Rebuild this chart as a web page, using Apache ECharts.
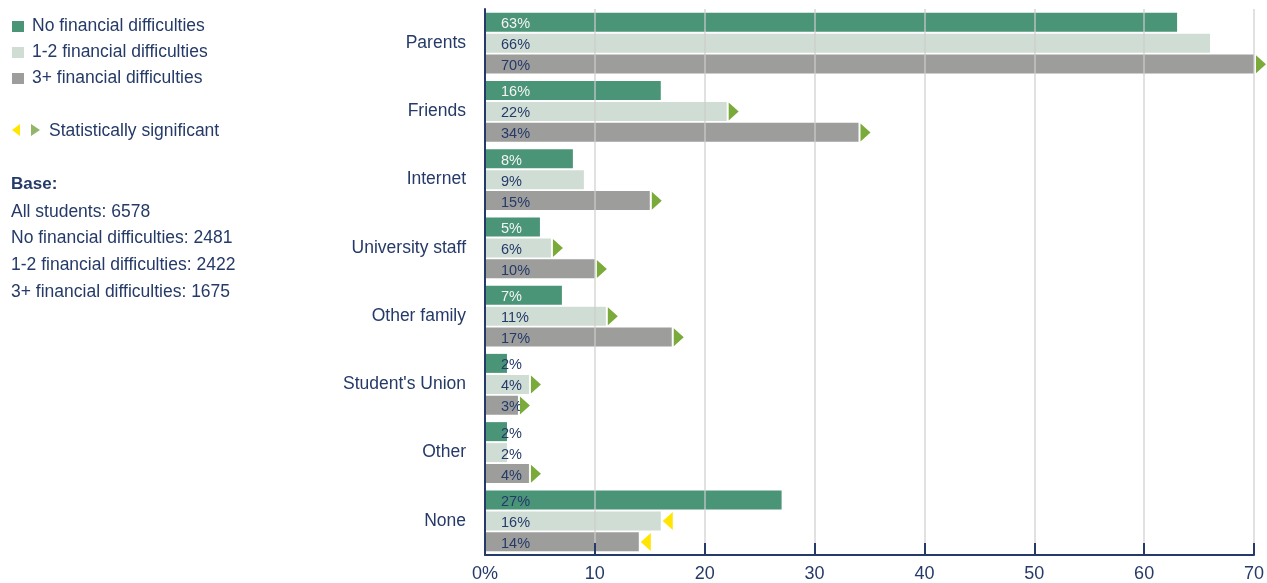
<!DOCTYPE html>
<html>
<head>
<meta charset="utf-8">
<script src="https://cdn.jsdelivr.net/npm/echarts@6/dist/echarts.min.js"></script>
<style>
html,body{margin:0;padding:0;background:#fff;}
#chart{width:1267px;height:583px;}
</style>
</head>
<body>
<div id="chart"></div>
<script>
// ---- data ----
var categories = ["Parents", "Friends", "Internet", "University staff", "Other family", "Student's Union", "Other", "None"];
var seriesNames = ["No financial difficulties", "1-2 financial difficulties", "3+ financial difficulties"];
var noDiff   = [63, 16, 8, 5, 7, 2, 2, 27];
var oneTwo   = [66, 22, 9, 6, 11, 4, 2, 16];
var threePlus= [70, 34, 15, 10, 17, 3, 4, 14];
// significance: 1 = significantly higher (green ▶), -1 = significantly lower (yellow ◀), 0 = none
var sigNo        = [0, 0, 0, 0, 0, 0, 0, 0];
var sigOneTwo    = [0, 1, 0, 1, 1, 1, 0, -1];
var sigThreePlus = [1, 1, 1, 1, 1, 1, 1, -1];
var xTicks = [0, 10, 20, 30, 40, 50, 60, 70];
var baseLines = ["All students: 6578", "No financial difficulties: 2481", "1-2 financial difficulties: 2422", "3+ financial difficulties: 1675"];

// ---- styles ----
var NAVY = '#253a68';
var colors = ['#4a9478', '#d0ddd5', '#9d9d9c'];
var GREEN_TRI = '#7aab3a', YELLOW_TRI = '#ffe500';
var FONT = 'Liberation Sans, Arial, sans-serif';
var BAR_W = 19, BAR_STEP = 21;
var darkLabelIdx = [5, 6, 7];

var chart = echarts.init(document.getElementById('chart'), null, {renderer: 'canvas'});

var valuesList = [noDiff, oneTwo, threePlus];
var sigList = [sigNo, sigOneTwo, sigThreePlus];

var series = [];
valuesList.forEach(function (vals, si) {
  series.push({
    name: seriesNames[si],
    type: 'bar',
    barWidth: BAR_W,
    barGap: '10.5%',
    itemStyle: {color: colors[si]},
    z: 2,
    label: {
      show: true,
      position: 'insideLeft',
      distance: 16,
      offset: [0, 2],
      formatter: '{c}%',
      fontFamily: FONT,
      fontSize: 14.5,
      color: NAVY
    },
    data: vals.map(function (v, i) {
      var d = {value: v};
      if (si === 0 && darkLabelIdx.indexOf(i) < 0) d.label = {color: '#f4f4f4'};
      return d;
    })
  });
});

// triangles marking statistical significance
sigList.forEach(function (sig, si) {
  var data = [];
  sig.forEach(function (s, i) {
    if (s !== 0) data.push([valuesList[si][i], i, s]);
  });
  series.push({
    type: 'custom',
    z: 5,
    silent: true,
    data: data,
    encode: {x: 0, y: 1},
    renderItem: function (params, api) {
      var p = api.coord([api.value(0), api.value(1)]);
      var dir = api.value(2);
      var cy = p[1] + (si - 1) * BAR_STEP;
      var x0 = p[0] + 2;
      var pts = dir > 0
        ? [[x0, cy - 9], [x0 + 10, cy], [x0, cy + 9]]
        : [[x0 + 10, cy - 9], [x0, cy], [x0 + 10, cy + 9]];
      return {
        type: 'polygon',
        shape: {points: pts},
        style: {fill: dir > 0 ? GREEN_TRI : YELLOW_TRI}
      };
    }
  });
});

var graphics = [];
// significance legend
graphics.push({type: 'polygon', left: 12, top: 124, shape: {points: [[8, 0], [0, 6], [8, 12]]}, style: {fill: YELLOW_TRI}});
graphics.push({type: 'polygon', left: 31, top: 124, shape: {points: [[0, 0], [9, 6], [0, 12]]}, style: {fill: '#93b56a'}});
graphics.push({type: 'text', left: 49, top: 122, style: {text: 'Statistically significant', font: '17.5px ' + FONT, fill: NAVY}});
graphics.push({type: 'text', left: 11, top: 176, style: {text: 'Base:', font: 'bold 17px ' + FONT, fill: NAVY}});
baseLines.forEach(function (t, i) {
  graphics.push({type: 'text', left: 11, top: 203 + i * 26.6, style: {text: t, font: '17.5px ' + FONT, fill: NAVY}});
});

var option = {
  animation: false,
  backgroundColor: '#fff',
  textStyle: {fontFamily: FONT},
  legend: {
    orient: 'vertical',
    left: 12,
    top: 17.5,
    padding: 0,
    itemWidth: 12,
    itemHeight: 11,
    itemGap: 8,
    icon: 'rect',
    selectedMode: false,
    data: seriesNames,
    textStyle: {fontFamily: FONT, fontSize: 17.5, color: NAVY, lineHeight: 16, padding: [0, 0, 0, 3]}
  },
  grid: {left: 485, right: 12, top: 9, bottom: 24, containLabel: false},
  xAxis: {
    type: 'value',
    min: 0,
    max: 70,
    interval: 10,
    z: 3,
    axisLine: {show: true, lineStyle: {color: NAVY, width: 2}},
    axisTick: {show: true, inside: true, length: 12, lineStyle: {color: NAVY, width: 2}},
    axisLabel: {
      fontFamily: FONT, fontSize: 18, color: NAVY, margin: 10,
      formatter: function (v) { return v === xTicks[0] ? v + '%' : String(v); }
    },
    splitLine: {show: true, lineStyle: {color: 'rgba(205,205,205,0.6)', width: 2}}
  },
  yAxis: {
    type: 'category',
    inverse: true,
    data: categories,
    z: 4,
    axisLine: {show: true, lineStyle: {color: NAVY, width: 2}},
    axisTick: {show: false},
    axisLabel: {fontFamily: FONT, fontSize: 17.5, color: NAVY, margin: 19}
  },
  graphic: graphics,
  series: series
};
chart.setOption(option);
</script>
</body>
</html>
